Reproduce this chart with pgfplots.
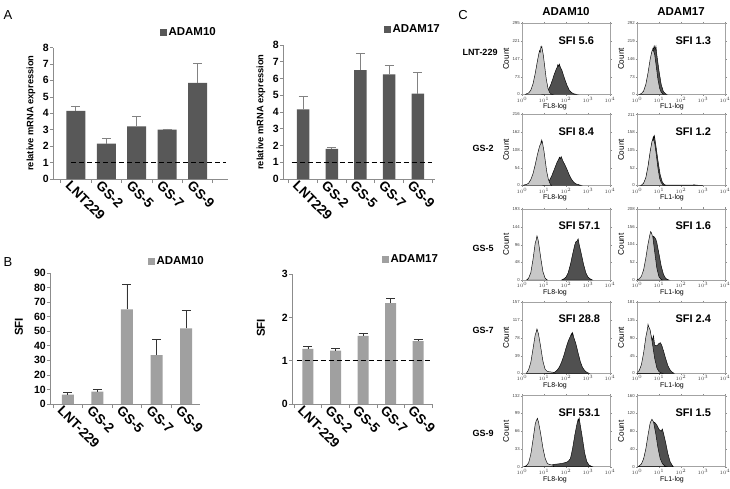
\documentclass[border=0pt]{standalone}
\usepackage{fontspec}
\setmainfont{Liberation Sans}
\usepackage{pgfplots}
\pgfplotsset{compat=1.18}
\definecolor{abar}{RGB}{88,88,88}
\definecolor{bbar}{RGB}{160,160,160}
\definecolor{hlight}{RGB}{200,200,200}
\definecolor{hdark}{RGB}{80,80,80}
\definecolor{axgray}{RGB}{140,140,140}
\definecolor{errgray}{RGB}{130,130,130}
\newcommand{\fs}[1]{\fontsize{#1}{#1}\selectfont}
\pgfplotsset{
  barax/.style={
    scale only axis, anchor=south west,
    axis x line*=bottom, axis y line*=left,
    axis line style={draw=axgray, line width=0.7pt},
    tick style={draw=axgray, line width=0.6pt},
    tick align=outside, major tick length=3pt, minor tick length=4pt,
    major x tick style={draw=none},
    xtick={0,...,4}, minor xtick={-0.5,0.5,1.5,2.5,3.5,4.5},
    ymin=0,
    /pgf/number format/assume math mode=true,
    yticklabel style={font=\bfseries\fs{10.5}, inner sep=1pt},
    xticklabel style={font=\bfseries\fs{13.5}, rotate=-45, anchor=north west, inner sep=0.5pt, xshift=-5pt, yshift=-1pt},
    legend style={draw=none, fill=none, anchor=west, font=\bfseries\fs{11.5}, inner sep=0pt},
    legend cell align=left,
  },
  hist/.style={
    scale only axis, anchor=south west, width=88pt, height=71pt,
    xmin=0, xmax=4, ymin=0,
    axis line style={draw=axgray!80, line width=0.5pt},
    tick style={draw=axgray, line width=0.3pt}, major tick length=1.5pt, tick align=outside,
    xtick={0,...,4}, xticklabels={$10^0$,$10^1$,$10^2$,$10^3$,$10^4$},
    tick label style={font=\fs{4.3}, text=darkgray, inner sep=0.6pt},
    /pgf/number format/assume math mode=true,
  },
  dk/.style={fill=hdark, draw=black, line width=0.45pt},
  lt/.style={fill=hlight, draw=black, line width=0.45pt},
}
\begin{document}
\begin{tikzpicture}
\useasboundingbox (0,0) rectangle (730pt,488pt);
% ---------------- Panel A left
\begin{axis}[barax, at={(53pt,309pt)}, width=175pt, height=131.5pt,
  xmin=-0.75, xmax=5.0, ymax=8, ytick={0,...,8},
  xticklabels={LNT229,GS-2,GS-5,GS-7,GS-9},
  legend style={at={(0.611,1.118)}}]
\addplot[ybar, bar width=19pt, fill=abar, draw=none, forget plot,
  error bars/.cd, y dir=plus, y explicit,
  error bar style={draw=errgray, line width=0.7pt},
  error mark options={rotate=90, mark size=4.5pt, draw=errgray, line width=0.7pt}]
  coordinates {(0,4.15) +- (0,0.3) (1,2.15) +- (0,0.3) (2,3.2) +- (0,0.6) (3,3.0) +- (0,0.05) (4,5.85) +- (0,1.2)};
\addplot[black, line width=1.4pt, dash pattern=on 5pt off 3pt, forget plot] coordinates {(-0.15,1) (4.92,1)};
\addlegendimage{legend image code/.code={\fill[abar] (0pt,-3pt) rectangle (6pt,3pt);}}
\addlegendentry{ADAM10}
\end{axis}
% ---------------- Panel A right
\begin{axis}[barax, at={(283pt,309pt)}, width=152pt, height=134pt,
  xmin=-0.7, xmax=4.6, ymax=8, ytick={0,...,8},
  xticklabels={LNT229,GS-2,GS-5,GS-7,GS-9},
  legend style={at={(0.664,1.119)}}]
\addplot[ybar, bar width=12.5pt, fill=abar, draw=none, forget plot,
  error bars/.cd, y dir=plus, y explicit,
  error bar style={draw=errgray, line width=0.7pt},
  error mark options={rotate=90, mark size=4.5pt, draw=errgray, line width=0.7pt}]
  coordinates {(0,4.15) +- (0,0.8) (1,1.8) +- (0,0.08) (2,6.5) +- (0,1.0) (3,6.25) +- (0,0.55) (4,5.1) +- (0,1.25)};
\addplot[black, line width=1.4pt, dash pattern=on 5pt off 3pt, forget plot] coordinates {(-0.4,1) (4.5,1)};
\addlegendimage{legend image code/.code={\fill[abar] (0pt,-3pt) rectangle (6pt,3pt);}}
\addlegendentry{ADAM17}
\end{axis}
% ---------------- Panel B left
\begin{axis}[barax, at={(50pt,84pt)}, width=150pt, height=131pt,
  xmin=-0.6, xmax=4.47, ymax=90, ytick={0,10,...,90},
  xticklabels={LNT-229,GS-2,GS-5,GS-7,GS-9},
  legend style={at={(0.653,1.092)}}]
\addplot[ybar, bar width=12pt, fill=bbar, draw=none, forget plot,
  error bars/.cd, y dir=plus, y explicit,
  error bar style={draw=black!80, line width=0.7pt},
  error mark options={rotate=90, mark size=4.5pt, draw=black!80, line width=0.7pt}]
  coordinates {(0,6.5) +- (0,1.5) (1,8.5) +- (0,1.7) (2,65) +- (0,17) (3,33.5) +- (0,11) (4,52) +- (0,12)};
\addlegendimage{legend image code/.code={\fill[bbar] (0pt,-3pt) rectangle (6pt,3pt);}}
\addlegendentry{ADAM10}
\end{axis}
% ---------------- Panel B right
\begin{axis}[barax, at={(292pt,84pt)}, width=140pt, height=130pt,
  xmin=-0.58, xmax=4.5, ymax=3, ytick={0,1,2,3},
  xticklabels={LNT-229,GS-2,GS-5,GS-7,GS-9},
  legend style={at={(0.643,1.115)}}]
\addplot[ybar, bar width=11pt, fill=bbar, draw=none, forget plot,
  error bars/.cd, y dir=plus, y explicit,
  error bar style={draw=black!80, line width=0.7pt},
  error mark options={rotate=90, mark size=4.5pt, draw=black!80, line width=0.7pt}]
  coordinates {(0,1.27) +- (0,0.06) (1,1.23) +- (0,0.06) (2,1.57) +- (0,0.07) (3,2.33) +- (0,0.1) (4,1.45) +- (0,0.04)};
\addplot[black, line width=1.4pt, dash pattern=on 5pt off 3pt, forget plot] coordinates {(-0.41,1) (4.5,1)};
\addlegendimage{legend image code/.code={\fill[bbar] (0pt,-3pt) rectangle (6pt,3pt);}}
\addlegendentry{ADAM17}
\end{axis}
% ---------------- Panel C histograms
% Row 1 LNT-229
\begin{axis}[hist, at={(522pt,393.5pt)}, ymax=295, ytick={0,73,147,221,295}]
\addplot[dk] coordinates {(0.9,0) (1.0,3) (1.1,9) (1.2,20) (1.3,39) (1.4,65) (1.45,80) (1.5,92) (1.55,104) (1.6,113) (1.63,124) (1.67,117) (1.7,126) (1.75,111) (1.8,104) (1.85,90) (1.95,62) (2.05,37) (2.15,18) (2.25,8) (2.35,3) (2.5,0)} \closedcycle;
\addplot[lt] coordinates {(0.15,0) (0.2,3) (0.3,6) (0.4,18) (0.5,44) (0.6,87) (0.7,139) (0.75,163) (0.8,183) (0.83,176) (0.86,198) (0.88,195) (0.9,200) (0.92,188) (0.97,163) (1.03,118) (1.1,66) (1.18,26) (1.25,9) (1.32,2) (1.4,0)} \closedcycle;
\end{axis}
\begin{axis}[hist, at={(637pt,393.5pt)}, ymax=292, ytick={0,73,146,219,292}]
\addplot[dk] coordinates {(0.2,0) (0.3,4) (0.4,17) (0.5,48) (0.6,105) (0.7,167) (0.72,190) (0.75,187) (0.78,200) (0.8,192) (0.82,182) (0.86,198) (0.9,164) (1.0,97) (1.1,41) (1.2,12) (1.3,3) (1.36,0)} \closedcycle;
\addplot[lt] coordinates {(0.1,0) (0.2,4) (0.3,14) (0.4,41) (0.5,89) (0.6,146) (0.68,179) (0.73,185) (0.8,166) (0.88,112) (0.95,63) (1.03,25) (1.1,9) (1.2,1) (1.25,0)} \closedcycle;
\end{axis}
% Row 2 GS-2
\begin{axis}[hist, at={(522pt,302.5pt)}, ymax=216, ytick={0,54,108,162,216}]
\addplot[dk] coordinates {(0.95,0) (1.05,3) (1.15,7) (1.25,16) (1.35,29) (1.45,46) (1.55,63) (1.6,72) (1.65,77) (1.7,86) (1.74,81) (1.78,88) (1.85,76) (1.95,63) (2.05,48) (2.15,32) (2.25,19) (2.35,10) (2.45,5) (2.6,2) (2.7,0)} \closedcycle;
\addplot[lt] coordinates {(0.05,0) (0.1,2) (0.2,3) (0.3,7) (0.4,18) (0.5,36) (0.6,63) (0.7,94) (0.8,120) (0.85,127) (0.88,138) (0.9,130) (0.92,134) (0.95,123) (1.0,104) (1.05,79) (1.12,44) (1.2,18) (1.28,5) (1.35,0)} \closedcycle;
\end{axis}
\begin{axis}[hist, at={(637pt,302.5pt)}, ymax=211, ytick={0,52,105,158,211}]
\addplot[dk] coordinates {(0.2,0) (0.3,5) (0.4,19) (0.5,50) (0.6,94) (0.7,132) (0.74,145) (0.76,140) (0.79,148) (0.85,122) (0.95,75) (1.05,33) (1.15,10) (1.25,2) (1.35,1) (2.0,1) (2.5,1) (2.6,2) (2.7,1) (3.0,0)} \closedcycle;
\addplot[lt] coordinates {(0.15,0) (0.2,1) (0.3,7) (0.4,23) (0.5,57) (0.6,102) (0.68,131) (0.74,138) (0.8,127) (0.87,95) (0.95,52) (1.03,21) (1.1,8) (1.2,1) (1.25,0)} \closedcycle;
\end{axis}
% Row 3 GS-5
\begin{axis}[hist, at={(522pt,208pt)}, ymax=193, ytick={0,48,96,144,193}]
\addplot[dk] coordinates {(1.8,0) (1.9,3) (2.0,8) (2.1,20) (2.2,42) (2.3,70) (2.4,96) (2.45,104) (2.5,106) (2.55,112) (2.6,96) (2.7,70) (2.8,42) (2.9,20) (3.0,8) (3.1,3) (3.2,0)} \closedcycle;
\addplot[lt] coordinates {(0.2,0) (0.25,2) (0.3,5) (0.4,20) (0.5,56) (0.6,100) (0.65,110) (0.68,120) (0.72,112) (0.75,103) (0.85,61) (0.95,23) (1.05,5) (1.15,0)} \closedcycle;
\end{axis}
\begin{axis}[hist, at={(637pt,208pt)}, ymax=208, ytick={0,52,104,156,208}]
\addplot[dk] coordinates {(0.1,0) (0.2,3) (0.3,10) (0.4,24) (0.5,49) (0.6,83) (0.7,112) (0.75,128) (0.8,125) (0.85,120) (0.9,110) (1.0,76) (1.1,41) (1.2,17) (1.3,5) (1.4,1) (1.45,0)} \closedcycle;
\addplot[lt] coordinates {(0.0,2) (0.1,3) (0.2,11) (0.3,30) (0.4,64) (0.5,105) (0.58,131) (0.62,142) (0.65,139) (0.72,125) (0.8,84) (0.9,35) (1.0,9) (1.1,2) (1.15,0)} \closedcycle;
\end{axis}
% Row 4 GS-7
\begin{axis}[hist, at={(522pt,114.7pt)}, ymax=157, ytick={0,39,78,117,157}]
\addplot[dk] coordinates {(1.1,0) (1.2,1) (1.4,1) (1.5,3) (1.6,7) (1.7,14) (1.8,25) (1.9,39) (2.0,56) (2.1,71) (2.2,82) (2.25,88) (2.27,84) (2.3,90) (2.35,80) (2.45,65) (2.55,45) (2.65,26) (2.75,13) (2.85,6) (2.95,2) (3.05,0)} \closedcycle;
\addplot[lt] coordinates {(0.2,0) (0.3,8) (0.4,24) (0.5,54) (0.6,85) (0.65,92) (0.68,98) (0.7,95) (0.75,87) (0.85,58) (0.95,27) (1.05,9) (1.15,4) (1.3,3) (1.45,2) (1.5,0)} \closedcycle;
\end{axis}
\begin{axis}[hist, at={(637pt,114.7pt)}, ymax=181, ytick={0,45,90,135,181}]
\addplot[dk] coordinates {(0.05,0) (0.1,3) (0.2,15) (0.3,40) (0.4,78) (0.5,105) (0.55,112) (0.6,104) (0.65,92) (0.7,85) (0.75,96) (0.8,72) (0.9,70) (1.0,76) (1.06,78) (1.12,72) (1.2,58) (1.3,38) (1.4,20) (1.5,9) (1.6,3) (1.68,0)} \closedcycle;
\addplot[lt] coordinates {(0.0,2) (0.1,7) (0.2,22) (0.3,52) (0.4,92) (0.48,114) (0.5,125) (0.53,119) (0.6,110) (0.7,76) (0.8,39) (0.9,14) (1.0,4) (1.1,1) (1.15,0)} \closedcycle;
\end{axis}
% Row 5 GS-9
\begin{axis}[hist, at={(522pt,21.3pt)}, ymax=132, ytick={0,33,66,99,132}]
\addplot[dk] coordinates {(1.3,0) (1.4,4) (1.6,5) (1.8,6) (2.0,8) (2.1,10) (2.2,15) (2.3,34) (2.4,59) (2.5,80) (2.55,88) (2.57,85) (2.6,90) (2.65,77) (2.75,52) (2.85,25) (2.95,9) (3.05,3) (3.15,1) (3.2,0)} \closedcycle;
\addplot[lt] coordinates {(0.1,0) (0.2,2) (0.3,7) (0.4,23) (0.5,50) (0.6,79) (0.65,86) (0.68,88) (0.7,90) (0.75,83) (0.85,61) (0.95,35) (1.05,16) (1.15,6) (1.25,4) (1.4,3) (1.45,0)} \closedcycle;
\end{axis}
\begin{axis}[hist, at={(637pt,21.3pt)}, ymax=160, ytick={0,40,80,120,160}]
\addplot[dk] coordinates {(0.1,0) (0.2,4) (0.3,14) (0.4,34) (0.5,60) (0.6,86) (0.7,98) (0.8,100) (0.9,94) (1.0,84) (1.1,80) (1.15,85) (1.2,76) (1.3,55) (1.4,30) (1.5,12) (1.6,3) (1.65,0)} \closedcycle;
\addplot[lt] coordinates {(0.05,0) (0.1,2) (0.2,6) (0.3,18) (0.4,40) (0.5,71) (0.6,99) (0.65,104) (0.68,107) (0.75,101) (0.85,75) (0.95,43) (1.05,19) (1.15,7) (1.25,2) (1.35,0)} \closedcycle;
\end{axis}
% ---------------- Texts
\node[font=\fs{13}] at (8pt,473pt) {A};
\node[font=\fs{13}] at (8pt,226pt) {B};
\node[font=\fs{13}] at (463pt,473pt) {C};
\node[font=\bfseries\fs{9.3}, rotate=90] at (31pt,375pt) {relative mRNA expression};
\node[font=\bfseries\fs{9.3}, rotate=90] at (261pt,376pt) {relative mRNA expression};
\node[font=\bfseries\fs{11.5}, rotate=90] at (19pt,161pt) {SFI};
\node[font=\bfseries\fs{11.5}, rotate=90] at (261pt,160pt) {SFI};
\node[font=\bfseries\fs{11.5}] at (566pt,476pt) {ADAM10};
\node[font=\bfseries\fs{11.5}] at (681pt,476pt) {ADAM17};
\node[font=\bfseries\fs{9}] at (480pt,436pt) {LNT-229};
\node[font=\bfseries\fs{9}] at (483pt,340pt) {GS-2};
\node[font=\bfseries\fs{9}] at (483pt,240pt) {GS-5};
\node[font=\bfseries\fs{9}] at (483pt,158pt) {GS-7};
\node[font=\bfseries\fs{9}] at (483pt,55pt) {GS-9};
% SFI values
\node[font=\bfseries\fs{11}, anchor=west] at (555pt,447.5pt) {SFI 5.6};
\node[font=\bfseries\fs{11}, anchor=west] at (672pt,447.5pt) {SFI 1.3};
\node[font=\bfseries\fs{11}, anchor=west] at (555pt,356.5pt) {SFI 8.4};
\node[font=\bfseries\fs{11}, anchor=west] at (672pt,356.5pt) {SFI 1.2};
\node[font=\bfseries\fs{11}, anchor=west] at (555pt,262pt) {SFI 57.1};
\node[font=\bfseries\fs{11}, anchor=west] at (672pt,262pt) {SFI 1.6};
\node[font=\bfseries\fs{11}, anchor=west] at (555pt,169pt) {SFI 28.8};
\node[font=\bfseries\fs{11}, anchor=west] at (672pt,169pt) {SFI 2.4};
\node[font=\bfseries\fs{11}, anchor=west] at (555pt,75.3pt) {SFI 53.1};
\node[font=\bfseries\fs{11}, anchor=west] at (672pt,75.3pt) {SFI 1.5};
% Count and channel labels
\foreach \yb in {393.5,302.5,208,114.7,21.3}{
  \node[font=\fs{8.2}, rotate=90] at (506pt,{(\yb+35.5)*1pt}) {Count};
  \node[font=\fs{8.2}, rotate=90] at (621pt,{(\yb+35.5)*1pt}) {Count};
  \node[font=\fs{7}] at (555pt,{(\yb-12.5)*1pt}) {FL8-log};
  \node[font=\fs{7}] at (672pt,{(\yb-12.5)*1pt}) {FL1-log};
}
\end{tikzpicture}
\end{document}
